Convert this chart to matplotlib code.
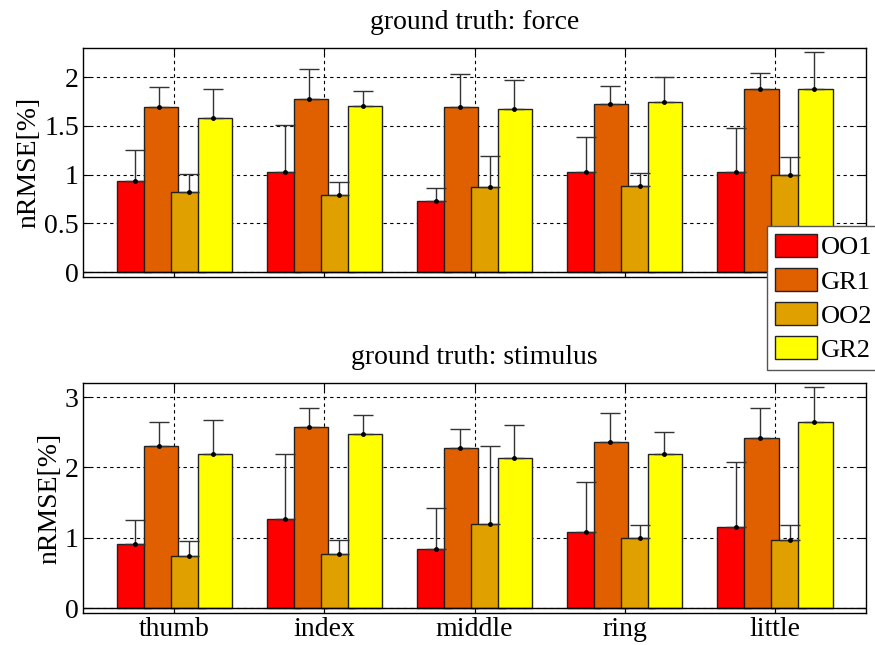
import numpy as np
import matplotlib.pyplot as plt

plt.rcParams['font.family'] = ['Liberation Serif', 'DejaVu Serif']

fingers = ['thumb', 'index', 'middle', 'ring', 'little']
methods = ['OO1', 'GR1', 'OO2', 'GR2']
colors = ['#FF0000', '#E06000', '#E0A000', '#FFFF00']

# ground truth: force (mean, upper end of error bar)
force_oo1 = [0.94, 1.03, 0.735, 1.03, 1.03]
force_gr1 = [1.69, 1.78, 1.69, 1.73, 1.88]
force_oo2 = [0.82, 0.79, 0.87, 0.88, 1.00]
force_gr2 = [1.58, 1.70, 1.67, 1.75, 1.88]
force_oo1_top = [1.25, 1.51, 0.865, 1.39, 1.48]
force_gr1_top = [1.90, 2.08, 2.03, 1.91, 2.04]
force_oo2_top = [1.01, 0.93, 1.19, 1.02, 1.18]
force_gr2_top = [1.88, 1.86, 1.97, 2.00, 2.26]

# ground truth: stimulus
stim_oo1 = [0.915, 1.27, 0.84, 1.09, 1.16]
stim_gr1 = [2.31, 2.57, 2.27, 2.36, 2.42]
stim_oo2 = [0.74, 0.77, 1.20, 1.00, 0.97]
stim_gr2 = [2.19, 2.48, 2.14, 2.19, 2.65]
stim_oo1_top = [1.25, 2.19, 1.42, 1.79, 2.08]
stim_gr1_top = [2.65, 2.84, 2.54, 2.77, 2.84]
stim_oo2_top = [0.95, 0.97, 2.31, 1.19, 1.19]
stim_gr2_top = [2.67, 2.74, 2.61, 2.50, 3.15]

fig = plt.figure(figsize=(8.75, 6.45), dpi=100)
ax1 = fig.add_axes([0.0949, 0.5705, 0.895, 0.3551])
ax2 = fig.add_axes([0.0949, 0.0496, 0.895, 0.3566])

x = np.arange(1, len(fingers) + 1)
offsets = [-0.27, -0.09, 0.09, 0.27]
err_offsets = [-0.26, -0.10, 0.10, 0.26]
width = 0.227
fs = 20


def draw(ax, means, tops, title, ylim, yticks, yticklabels):
    handles = []
    for i in range(4):
        m = np.array(means[i])
        b = ax.bar(x + offsets[i], m, width, color=colors[i], edgecolor='#222222',
                   linewidth=1.0, zorder=2 + i * 0.1, label=methods[i])
        handles.append(b)
    for i in range(4):
        m = np.array(means[i])
        e = np.array(tops[i]) - m
        ax.errorbar(x + err_offsets[i], m, yerr=[np.zeros_like(e), e], fmt='.',
                    color='black', ecolor='#333333', elinewidth=1.0, capsize=7,
                    capthick=1.0, markersize=5, zorder=5)
    ax.axhline(0, color='black', linewidth=1.0, zorder=3)
    ax.set_xlim(0.393, 5.607)
    ax.set_ylim(*ylim)
    ax.set_yticks(yticks)
    ax.set_yticklabels(yticklabels)
    ax.set_xticks(x)
    ax.grid(True, color='black', linestyle=(0, (3, 3)), linewidth=0.8)
    ax.set_axisbelow(True)
    ax.tick_params(direction='in', top=True, right=True, labelsize=fs, length=5, pad=3)
    ax.set_ylabel('nRMSE[%]', fontsize=fs, labelpad=2)
    ax.set_title(title, fontsize=fs, pad=14)
    for s in ax.spines.values():
        s.set_linewidth(1.0)
    return handles


handles = draw(ax1, [force_oo1, force_gr1, force_oo2, force_gr2],
               [force_oo1_top, force_gr1_top, force_oo2_top, force_gr2_top],
               'ground truth: force', (-0.05, 2.30),
               [0, 0.5, 1, 1.5, 2], ['0', '0.5', '1', '1.5', '2'])
ax1.set_xticklabels([])

draw(ax2, [stim_oo1, stim_gr1, stim_oo2, stim_gr2],
     [stim_oo1_top, stim_gr1_top, stim_oo2_top, stim_gr2_top],
     'ground truth: stimulus', (-0.067, 3.2),
     [0, 1, 2, 3], ['0', '1', '2', '3'])
ax2.set_xticklabels(fingers)

leg = fig.legend(handles, methods, loc='upper left', bbox_to_anchor=(0.8766, 0.6496),
                 fontsize=19, handlelength=1.6, handleheight=0.95, labelspacing=0.33,
                 handletextpad=0.15, borderpad=0.3, borderaxespad=0.0,
                 fancybox=False, framealpha=1.0, edgecolor='#555555')
leg.get_frame().set_linewidth(1.0)
leg.set_zorder(10)

fig.savefig('out.png', dpi=100)
